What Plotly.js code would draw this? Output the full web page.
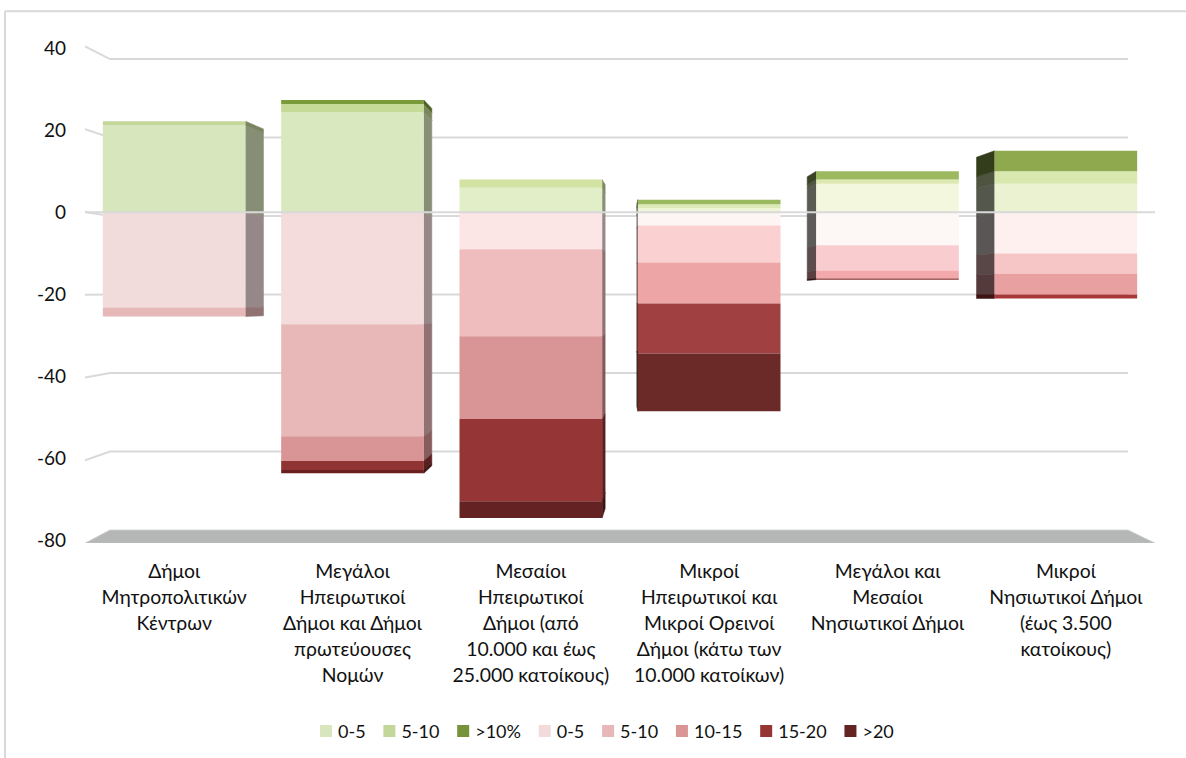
<!DOCTYPE html>
<html><head><meta charset="utf-8">
<script src="https://cdn.plot.ly/plotly-3.0.1.min.js"></script>
<style>html,body{margin:0;padding:0;background:#fff}</style></head>
<body><div id="chart" style="width:1186px;height:758px"></div>
<script>
const categories = [
  "Δήμοι<br>Μητροπολιτικών<br>Κέντρων",
  "Μεγάλοι<br>Ηπειρωτικοί<br>Δήμοι και Δήμοι<br>πρωτεύουσες<br>Νομών",
  "Μεσαίοι<br>Ηπειρωτικοί<br>Δήμοι (από<br>10.000 και έως<br>25.000 κατοίκους)",
  "Μικροί<br>Ηπειρωτικοί και<br>Μικροί Ορεινοί<br>Δήμοι (κάτω των<br>10.000 κατοίκων)",
  "Μεγάλοι και<br>Μεσαίοι<br>Νησιωτικοί Δήμοι",
  "Μικροί<br>Νησιωτικοί Δήμοι<br>(έως 3.500<br>κατοίκους)"
];
const seriesNames = ["0-5","5-10",">10%","0-5","5-10","10-15","15-20",">20"];
const gain0to5   = [21.2, 24.4, 6.0, 1.0, 7.0, 7.0];
const gain5to10  = [1.0, 2.0, 2.0, 1.0, 1.0, 3.0];
const gainOver10 = [0, 1.0, 0, 1.1, 2.0, 5.0];
const loss0to5   = [-23.2, -27.3, -9.0, -3.2, -8.0, -10.0];
const loss5to10  = [-2.2, -27.3, -21.2, -9.0, -6.2, -5.0];
const loss10to15 = [0, -6.0, -20.2, -10.0, -1.9, -5.0];
const loss15to20 = [0, -2.2, -20.0, -12.2, -0.3, -1.0];
const lossOver20 = [0, -0.8, -4.1, -14.1, 0, 0];
const allSeries = [gain0to5, gain5to10, gainOver10, loss0to5, loss5to10, loss10to15, loss15to20, lossOver20];

const colors = [
  ["#d8e6bd","#d9e8be","#e2eec8","#eef4d5","#f3f7dd","#eaf2d2"],
  ["#c4d79b","#c6da97","#d2e2a3","#dde9b8","#dde9b0","#d9e8af"],
  ["#76933c","#7a9a3a","#76933c","#9ab85e","#9db960","#8fa94e"],
  ["#f2dcdb","#f4dcdc","#fbe5e5","#fdf5f4","#fdf7f6","#fdf0ef"],
  ["#e6b8b7","#e8b8b9","#efbdbd","#fad0d1","#f9cdcf","#f6c6c6"],
  ["#da9694","#d99595","#d99595","#eda6a5","#f3a9a9","#e8a0a0"],
  ["#963634","#8f3333","#953535","#a04040","#8a3030","#a83838"],
  ["#632523","#6a2020","#642222","#6b2928","#632523","#632523"]
];
const sideShade = [0.62, 0.62, 0.6, 0.42, 0.37, 0.36];
const sideDepthPx = [18, 8, 3, -1, -9, -18];
const yTicks = [-80,-60,-40,-20,0,20,40];

const pxPerCat = 1070/6, barW = 0.8;
const backV = v => 0.957*v - 0.9;
const frontV = v => 1.0095*v + 0.1;
const xr = [-0.5,5.5], yr = [-80.6,40.8];
const plotTop = 44.71, plotH = 498.75, plotBottom = plotTop + plotH;
const backL = -0.5 + 25/pxPerCat, backR = 5.5 - 27/pxPerCat;
const yPaper = px => (plotBottom - px)/plotH;
function shade(hex,f){
  const n = parseInt(hex.slice(1),16);
  return "rgb("+[(n>>16)&255,(n>>8)&255,n&255].map(c=>Math.round(c*f)).join(",")+")";
}
const grey = "#d9d9d9", skip = {hoverinfo:"skip",showlegend:false,mode:"lines",cliponaxis:false};
const traces = [];
// back wall gridlines with their left slant
yTicks.filter(v=>v>-80).forEach(v=>{
  traces.push(Object.assign({type:"scatter",x:[xr[0],backL,backR],y:[frontV(v),backV(v),backV(v)],
    line:{color:grey,width:2}},skip));
});
// floor
traces.push(Object.assign({type:"scatter",
  x:[xr[0],backL,backR,xr[1],xr[0]],y:[frontV(-80),backV(-80),backV(-80),frontV(-80),frontV(-80)],
  fill:"toself",fillcolor:"#b5b7b6",line:{color:"#c9c9c9",width:1}},skip));
// side faces of the bars
categories.forEach((c,i)=>{
  let up=0, dn=0;
  allSeries.forEach((s,k)=>{
    const val=s[i]; if(!val) return;
    const v0 = val>0?up:dn, v1=v0+val;
    if(val>0) up=v1; else dn=v1;
    const d=sideDepthPx[i];
    const xf = i + (d>0?barW/2:-barW/2), xb = xf + d/pxPerCat;
    const col = shade(colors[k][i],sideShade[i]);
    traces.push(Object.assign({type:"scatter",
      x:[xf,xb,xb,xf,xf],y:[v0,backV(v0),backV(v1),v1,v0],
      fill:"toself",fillcolor:col,line:{width:0.5,color:col}},skip));
  });
});
// front faces
allSeries.forEach((s,k)=>{
  traces.push({type:"bar",name:seriesNames[k],x:categories.map((c,i)=>i),y:s,
    xaxis:"x2",yaxis:"y2",width:barW,
    marker:{color:colors[k],line:{width:0}},hovertemplate:"%{y}<extra></extra>"});
});
// front zero line
traces.push(Object.assign({type:"scatter",x:xr,y:[0,0],xaxis:"x3",yaxis:"y3",line:{color:grey,width:2}},skip));

const font = {family:'Lato, "Noto Sans", sans-serif',color:"#111"};
const hidden = r=>({range:r,visible:false,fixedrange:true});
const tickText = categories.map(c=>c.split("<br>").map(l=>'<span style="font-size:19.4px">'+l+'</span>').join("<br>"));
const layout = {
  width:1186,height:758,margin:{l:85,r:31,t:plotTop,b:758-plotBottom,pad:0,autoexpand:false},
  paper_bgcolor:"#fff",plot_bgcolor:"rgba(0,0,0,0)",showlegend:true,
  barmode:"relative",font,
  xaxis:{range:xr,tickmode:"array",tickvals:categories.map((c,i)=>i),ticktext:tickText,showgrid:false,zeroline:false,showline:false,ticks:"",
    tickangle:0,tickfont:Object.assign({},font,{size:20}),ticklabelstandoff:14},
  yaxis:{range:yr,tickmode:"array",tickvals:yTicks,ticktext:yTicks.map(String),showgrid:false,zeroline:false,showline:false,ticks:"",
    tickfont:Object.assign({},font,{size:19}),ticklabelstandoff:18},
  xaxis2:Object.assign(hidden(xr),{overlaying:"x"}),
  yaxis2:Object.assign(hidden(yr),{overlaying:"y"}),
  xaxis3:Object.assign(hidden(xr),{overlaying:"x"}),
  yaxis3:Object.assign(hidden(yr),{overlaying:"y"}),
  legend:{orientation:"h",x:0.487,xanchor:"center",y:yPaper(732),yanchor:"middle",font:Object.assign({},font,{size:18}),traceorder:"normal",itemclick:false,itemdoubleclick:false},
  shapes:[
    {type:"line",xref:"paper",yref:"paper",x0:-80/1070,x1:1101/1070,y0:yPaper(11),y1:yPaper(11),line:{color:grey,width:2}},
    {type:"line",xref:"paper",yref:"paper",x0:-80/1070,x1:-80/1070,y0:yPaper(11),y1:yPaper(760),line:{color:grey,width:2}}
  ]
};
// tighten the legend entries to the compact spacing of the reference
function tightenLegend(){
  const items = document.querySelectorAll("#chart .legend .traces");
  let pos = 320;
  items.forEach(it=>{
    const txt = it.querySelector("text.legendtext");
    const sw = it.querySelector(".legendpoints path");
    txt.setAttribute("x",32);
    const m = /translate\(([-\d.]+)[ ,]+([-\d.]+)\)/.exec(it.getAttribute("transform"));
    const cur = sw.getBoundingClientRect().left;
    it.setAttribute("transform","translate("+(parseFloat(m[1])+pos-cur)+","+m[2]+")");
    pos += 12+6+txt.getComputedTextLength()+17.8;
  });
}
Plotly.newPlot("chart",traces,layout,{displayModeBar:false,staticPlot:true}).then(tightenLegend);
</script></body></html>
